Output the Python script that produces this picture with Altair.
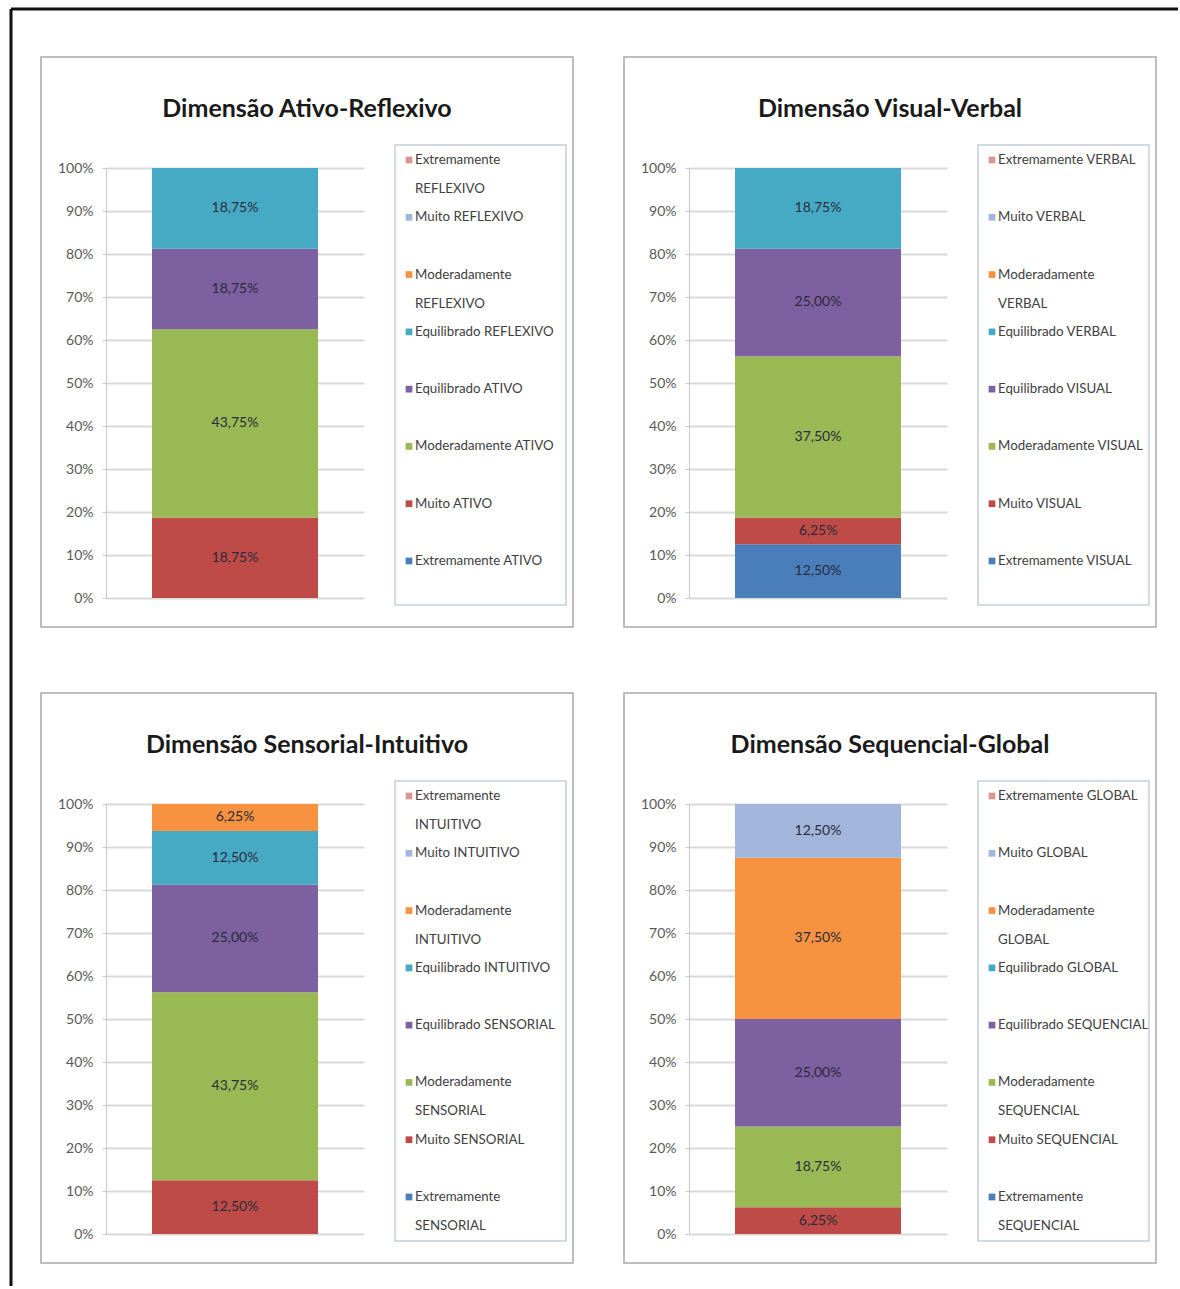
import altair as alt
import pandas as pd

F = "Lato, sans-serif"

titles = ["Dimensão Ativo-Reflexivo", "Dimensão Visual-Verbal",
          "Dimensão Sensorial-Intuitivo", "Dimensão Sequencial-Global"]
poles_a = ["ATIVO", "VISUAL", "SENSORIAL", "SEQUENCIAL"]
poles_b = ["REFLEXIVO", "VERBAL", "INTUITIVO", "GLOBAL"]
# stack order, bottom -> top
levels = ["Extremamente", "Muito", "Moderadamente", "Equilibrado",
          "Equilibrado", "Moderadamente", "Muito", "Extremamente"]
ativo_reflexivo = [0, 18.75, 43.75, 18.75, 18.75, 0, 0, 0]
visual_verbal = [12.5, 6.25, 37.5, 25.0, 18.75, 0, 0, 0]
sensorial_intuitivo = [0, 12.5, 43.75, 25.0, 12.5, 6.25, 0, 0]
sequencial_global = [0, 6.25, 18.75, 25.0, 0, 37.5, 12.5, 0]
panel_values = [ativo_reflexivo, visual_verbal, sensorial_intuitivo, sequencial_global]
# legend entries whose label wraps onto two lines (slot indices)
wrapped = [[7, 5], [5], [7, 5, 2, 0], [5, 2, 0]]
colors = ["#4A7EBB", "#BE4B48", "#98B954", "#7D60A0",
          "#46AAC5", "#F69240", "#A2B5DB", "#DA9694"]
y_ticks = list(range(0, 101, 10))
slots = list(range(8))


def panel(i):
    rows = []
    for s in slots:
        pole = poles_a[i] if s < 4 else poles_b[i]
        label = f"{levels[s]} {pole}"
        leg = f"{levels[s]}\n{pole}" if s in wrapped[i] else label
        rows.append({"slot": s, "cat": label, "leg": leg,
                     "pct": panel_values[i][s], "grp": "a"})
    df = pd.DataFrame(rows)
    one = pd.DataFrame({"t": [titles[i]]})
    base = alt.Chart(df)

    frame = alt.Chart(one).mark_rect(fillOpacity=0, stroke="#A8A8A8", strokeWidth=1.5).encode(
        x=alt.value(-65), x2=alt.value(467), y=alt.value(-111), y2=alt.value(459))
    title = alt.Chart(one).mark_text(font=F, fontSize=25, fontWeight="bold", color="#1a1a1a",
                                     baseline="middle", align="center").encode(
        x=alt.value(201), y=alt.value(-59), text="t:N")
    leg_box = alt.Chart(one).mark_rect(fillOpacity=0, stroke="#C3CEDC", strokeWidth=1.5).encode(
        x=alt.value(289), x2=alt.value(460), y=alt.value(-23), y2=alt.value(437))

    color = alt.Color("slot:N", scale=alt.Scale(domain=slots, range=colors), legend=None)
    yscale = alt.Scale(domain=[0, 100])
    bars = base.mark_bar(size=166).encode(
        x=alt.X("grp:N", axis=None),
        y=alt.Y("pct:Q", stack="zero", scale=yscale,
                axis=alt.Axis(values=y_ticks, labelExpr="datum.value + '%'", title=None,
                              grid=True, gridColor="#D9D9D9", gridWidth=2,
                              domainColor="#C8C8C8", tickColor="#C8C8C8", tickSize=4,
                              labelFont=F, labelFontSize=14, labelColor="#595959",
                              labelPadding=9)),
        color=color,
        order=alt.Order("slot:Q", sort="ascending"))
    labels = base.transform_filter("datum.pct > 0").transform_window(
        cum="sum(pct)", sort=[alt.SortField("slot", order="ascending")], frame=[None, 0]
    ).transform_calculate(
        mid="datum.cum - datum.pct / 2",
        lbl="replace(format(datum.pct, '.2f'), '.', ',') + '%'"
    ).mark_text(font=F, fontSize=14, color="#2b2b3a", baseline="middle").encode(
        x=alt.X("grp:N", axis=None), y=alt.Y("mid:Q", scale=yscale, axis=None), text="lbl:N")

    ly = alt.Y("slot:O", scale=alt.Scale(domain=list(reversed(slots)), range=[-8, 393], padding=0),
               axis=None)
    leg_sym = base.mark_square(size=45, opacity=1).encode(x=alt.value(303), y=ly, color=color)
    leg_txt = base.mark_text(font=F, fontSize=13.3, color="#404040", align="left",
                             baseline="middle", lineBreak="\n", lineHeight=29).encode(
        x=alt.value(309), y=ly, text="leg:N")

    layers = [frame, title, leg_box, bars, labels, leg_sym, leg_txt]
    if i == 0:
        outer_top = alt.Chart(one).mark_rule(color="#111111", strokeWidth=3).encode(
            x=alt.value(-95), x2=alt.value(1072), y=alt.value(-159))
        outer_left = alt.Chart(one).mark_rule(color="#111111", strokeWidth=3).encode(
            x=alt.value(-95), y=alt.value(-159), y2=alt.value(1118))
        layers = [outer_top, outer_left] + layers
    return alt.layer(*layers).resolve_scale(y="independent").properties(width=258, height=430)


chart = alt.concat(
    *[panel(i) for i in range(4)], columns=2,
    spacing=alt.RowColnumber(row=206, column=325), bounds="flush"
).properties(
    padding={"left": 9, "top": 7, "right": 0, "bottom": 0}, background="white"
).configure_view(strokeWidth=0)

chart.save("out.html", embed_options={"renderer": "svg", "actions": False})
